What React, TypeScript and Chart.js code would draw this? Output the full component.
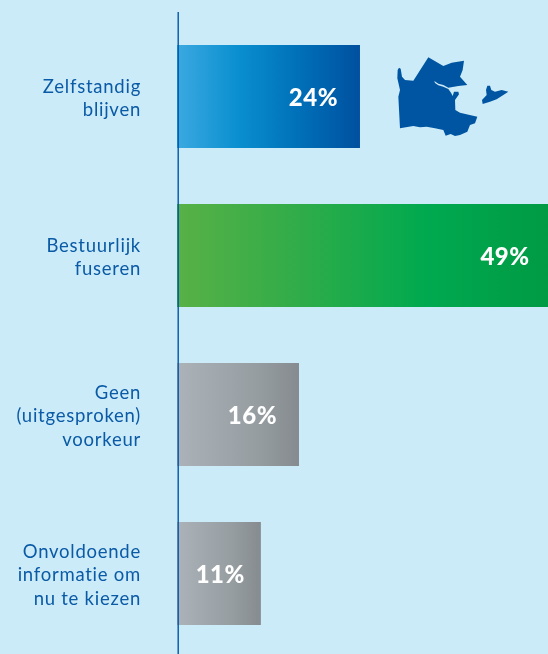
import React, { useEffect, useRef } from "react";
import { Chart, registerables } from "chart.js";

Chart.register(...registerables);

const categories: string[][] = [
  ["Zelfstandig", "blijven"],
  ["Bestuurlijk", "fuseren"],
  ["Geen", "(uitgesproken)", "voorkeur"],
  ["Onvoldoende", "informatie om", "nu te kiezen"],
];
const percentages: number[] = [24, 49, 16, 11];
const gradientStops: string[][] = [
  ["#3BA9E0", "#0A8FD0", "#0070B8", "#00509F"],
  ["#58B146", "#2FAC49", "#00A94F", "#009A44"],
  ["#ABB3B8", "#A0A8AD", "#969DA1", "#858B8E"],
  ["#ABB3B8", "#A0A8AD", "#969DA1", "#858B8E"],
];
const labelInsets: number[] = [22, 21, 22, 16];
const axisMax = 48.66;

const BG = "#CCEBF9";
const INK = "#0A5AA6";
const FONT = "Lato";

// Decorative map, in its own small coordinate system
const mapMain: number[][] = [
  [53, 90], [57, 83], [62, 86], [66, 110], [75, 120], [100, 122], [145, 52], [190, 78], [215, 68], [252, 62],
  [248, 90], [240, 110], [262, 135], [235, 138], [205, 143], [190, 135], [175, 131], [163, 123], [165, 129],
  [175, 136], [190, 140], [205, 147], [213, 158], [218, 168], [222, 155], [235, 155], [237, 163], [225, 180], [226, 210],
  [240, 218], [292, 230], [285, 250], [270, 255], [262, 275], [240, 285], [225, 288], [212, 282], [197, 287],
  [190, 270], [165, 265], [140, 260], [120, 262], [100, 258], [60, 265], [55, 170], [60, 150], [52, 115],
];
const mapIsland: number[][] = [
  [322, 137], [330, 137], [334, 150], [345, 155], [365, 150], [385, 155], [370, 165], [350, 178], [330, 185],
  [308, 192], [306, 180], [320, 165], [318, 150],
];

const spacingPlugin = {
  id: "spacing",
  beforeDraw(chart: any) {
    chart.ctx.letterSpacing = "0.75px";
  },
};

const axisLinePlugin = {
  id: "axisLine",
  afterDatasetsDraw(chart: any) {
    const { ctx, scales } = chart;
    const x = scales.x.getPixelForValue(0) + 1.2;
    ctx.save();
    ctx.strokeStyle = "#0057A8";
    ctx.lineWidth = 1.4;
    ctx.beginPath();
    ctx.moveTo(x, 12);
    ctx.lineTo(x, chart.height);
    ctx.stroke();
    ctx.restore();
  },
};

const valueLabelPlugin = {
  id: "valueLabels",
  afterDatasetsDraw(chart: any) {
    const { ctx, scales } = chart;
    ctx.save();
    ctx.fillStyle = "#FFFFFF";
    ctx.font = `900 24px ${FONT}`;
    ctx.letterSpacing = "0.5px";
    ctx.textAlign = "right";
    ctx.textBaseline = "middle";
    percentages.forEach((v, i) => {
      const x = scales.x.getPixelForValue(v) - labelInsets[i];
      const y = scales.y.getPixelForValue(i) + 2;
      ctx.fillText(`${v}%`, x, y);
    });
    ctx.restore();
  },
};

const mapPlugin = {
  id: "mapShape",
  afterDraw(chart: any) {
    const { ctx } = chart;
    const trace = (pts: number[][]) => {
      pts.forEach(([a, b], i) => {
        const x = 380 + a / 3;
        const y = 40 + b / 3;
        if (i === 0) ctx.moveTo(x, y);
        else ctx.lineTo(x, y);
      });
      ctx.closePath();
    };
    ctx.save();
    ctx.fillStyle = "#0055A2";
    ctx.beginPath();
    trace(mapMain);
    trace(mapIsland);
    ctx.fill();
    ctx.restore();
  },
};

export default function App() {
  const ref = useRef<HTMLCanvasElement>(null);
  useEffect(() => {
    document.body.style.margin = "0";
    document.body.style.background = BG;
    const chart = new Chart(ref.current as HTMLCanvasElement, {
      type: "bar",
      data: {
        labels: categories as any,
        datasets: [
          {
            data: percentages,
            backgroundColor: (c: any) => {
              const i = c.dataIndex;
              const stops = gradientStops[i] || gradientStops[0];
              const sc = c.chart.scales;
              if (!sc || !sc.x) return stops[0];
              const x0 = sc.x.getPixelForValue(0);
              const x1 = sc.x.getPixelForValue(percentages[i]);
              if (!Number.isFinite(x0) || !Number.isFinite(x1)) return stops[0];
              const g = c.chart.ctx.createLinearGradient(x0, 0, x1, 0);
              stops.forEach((s: string, k: number) => {
                g.addColorStop(k / (stops.length - 1), s);
              });
              return g;
            },
            borderWidth: 0,
            categoryPercentage: 1,
            barPercentage: 103 / 159,
          },
        ],
      },
      options: {
        indexAxis: "y",
        responsive: false,
        animation: false,
        layout: { padding: { top: 17, bottom: 1, left: 0, right: 0 } },
        plugins: { legend: { display: false }, tooltip: { enabled: false } },
        scales: {
          x: { display: false, min: 0, max: axisMax },
          y: {
            afterFit: (s: any) => {
              s.width = 177;
              s.paddingTop = 0;
              s.paddingBottom = 0;
            },
            border: { display: false },
            grid: { display: false, drawTicks: false },
            ticks: {
              color: INK,
              padding: 36,
              autoSkip: false,
              labelOffset: 2,
              font: { family: FONT, size: 18.5, lineHeight: 1.27 },
            },
          },
        },
      } as any,
      plugins: [spacingPlugin, axisLinePlugin, valueLabelPlugin, mapPlugin],
    });
    return () => chart.destroy();
  }, []);
  return (
    <div style={{ width: 548, height: 654, background: BG, overflow: "hidden" }}>
      <canvas ref={ref} width={548} height={654} style={{ display: "block" }} />
    </div>
  );
}
